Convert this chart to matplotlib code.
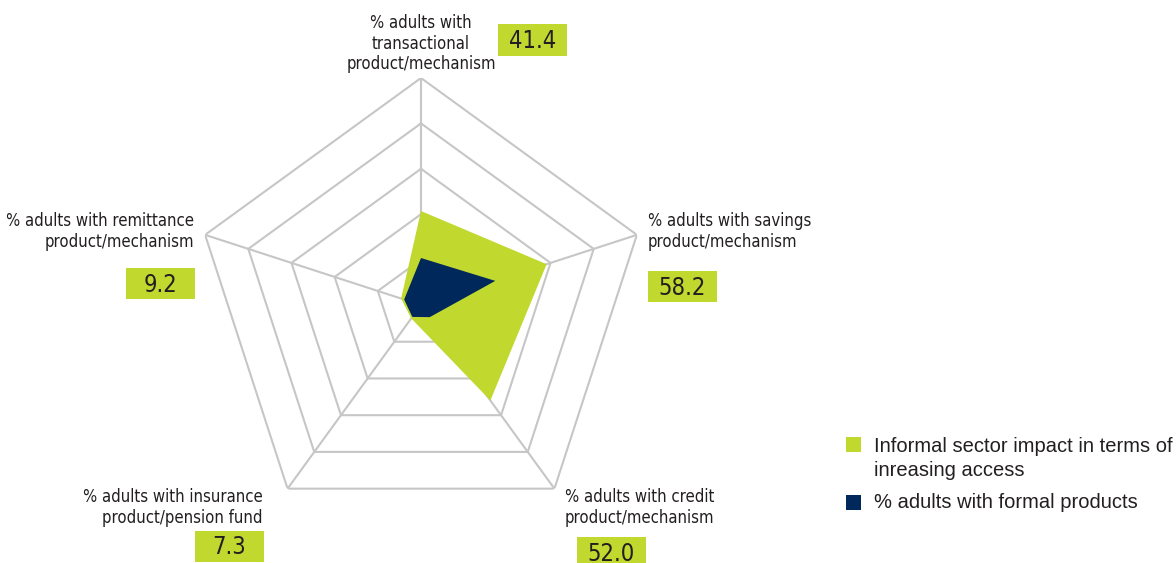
import numpy as np
import matplotlib.pyplot as plt
from matplotlib.patches import Rectangle

# Product categories, clockwise from the top
categories = [
    "% adults with\ntransactional\nproduct/mechanism",
    "% adults with savings\nproduct/mechanism",
    "% adults with credit\nproduct/mechanism",
    "% adults with insurance\nproduct/pension fund",
    "% adults with remittance\nproduct/mechanism",
]
informal = [41.4, 58.2, 52.0, 7.3, 9.2]   # informal sector impact
formal = [20.7, 34.4, 6.6, 6.5, 7.8]      # adults with formal products
rings = [20, 40, 60, 80, 100]

GREEN = "#c1d82f"
NAVY = "#00285a"
GRID = "#c6c6c6"
TXT = "#231f20"
NARROW = dict(family="DejaVu Sans", stretch="condensed")

W, H = 1176, 563
fig = plt.figure(figsize=(W / 100, H / 100), dpi=100)

def fx(x):
    return x / W

def fy(y):
    return 1 - y / H

# radar axes, centre and radius in pixels
cx, cy, R = 421, 305, 227
ax = fig.add_axes([(cx - R) / W, (H - cy - R) / H, 2 * R / W, 2 * R / H],
                  projection="polar")
ax.set_theta_offset(np.pi / 2)
ax.set_theta_direction(-1)
ax.set_ylim(0, 100)
ax.axis("off")

n = len(categories)
angles = np.arange(n) * 2 * np.pi / n
closed = np.append(angles, angles[0])

for r in rings:
    ax.plot(closed, [r] * (n + 1), color=GRID, lw=1.5, zorder=1)
for a in angles:
    ax.plot([a, a], [0, rings[-1]], color=GRID, lw=1.5, zorder=1)

ax.fill(closed, informal + informal[:1], color=GREEN, lw=0, zorder=3)
ax.fill(closed, formal + formal[:1], color=NAVY, lw=0, zorder=4)

# category labels: (x, y of first line top, alignment)
label_pos = [
    (421, 14, "center"),
    (648, 212.5, "left"),
    (565, 488.5, "left"),
    (263, 488.5, "right"),
    (194, 212.5, "right"),
]
for text, (x, y, ha) in zip(categories, label_pos):
    fig.text(fx(x), fy(y), text, ha=ha, va="top", fontsize=12,
             color=TXT, linespacing=1.18, **NARROW)

# value boxes for the informal sector figures: (centre x, centre y)
box_pos = [
    (532.5, 40),
    (682.5, 286.5),
    (611, 552.5),
    (229, 546),
    (160.5, 283.5),
]
bw, bh = 69, 31
for v, (x, y) in zip(informal, box_pos):
    fig.patches.append(Rectangle((fx(x - bw / 2), fy(y + bh / 2)), bw / W, bh / H,
                                 transform=fig.transFigure, color=GREEN, lw=0))
    fig.text(fx(x), fy(y + 8.5), f"{v:.1f}", ha="center", va="baseline",
             fontsize=17, color=TXT, **NARROW)

# legend: (colour, text, square top, text top)
legend_items = [
    (GREEN, "Informal sector impact in terms of\ninreasing access", 437, 436.5),
    (NAVY, "% adults with formal products", 495, 493),
]
for color, text, sq, ty in legend_items:
    fig.patches.append(Rectangle((fx(846), fy(sq + 15)), 15 / W, 15 / H,
                                 transform=fig.transFigure, color=color, lw=0))
    fig.text(fx(874), fy(ty), text, ha="left", va="top", fontsize=14.5,
             family=["Liberation Sans", "DejaVu Sans"], color=TXT,
             linespacing=1.38)

fig.savefig("out.png", dpi=100)
